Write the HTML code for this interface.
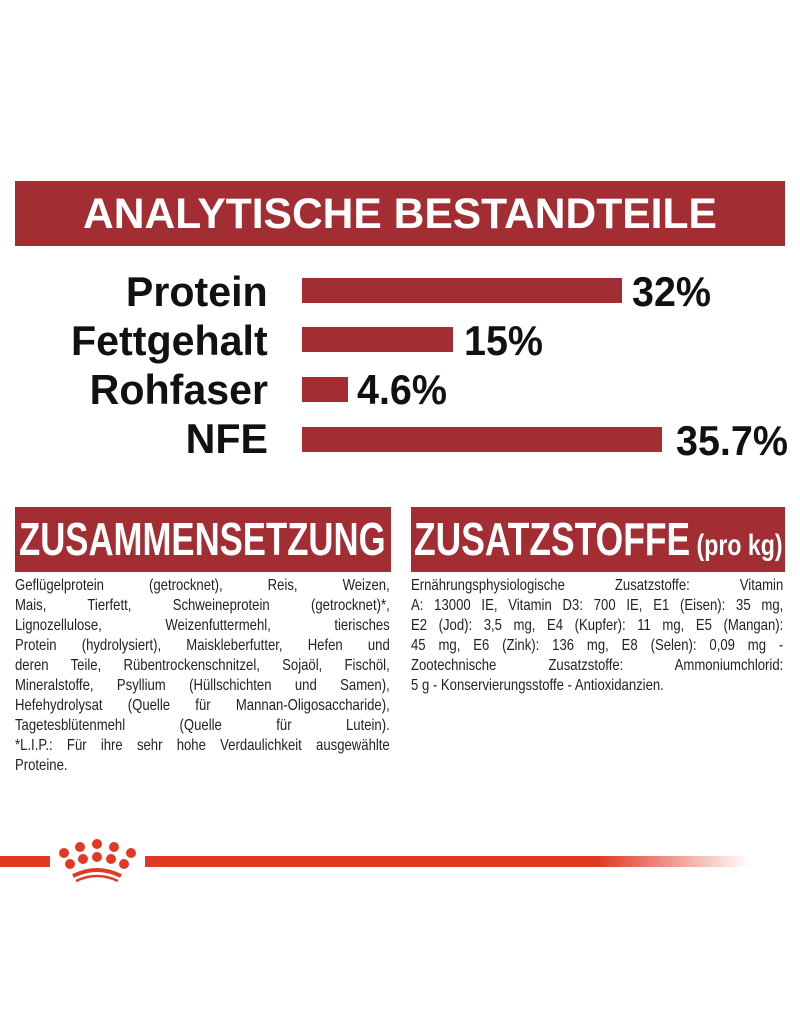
<!DOCTYPE html>
<html><head><meta charset="utf-8"><style>
html,body{margin:0;padding:0;background:#fff;}
body{width:800px;height:1012px;position:relative;overflow:hidden;font-family:"Liberation Sans",sans-serif;}
.abs{position:absolute;}
.banner{background:#a22d32;}
.bar{position:absolute;background:#a22d32;left:302px;height:25px;}
.lab{position:absolute;right:532px;font-weight:bold;font-size:42px;color:#111;transform:scaleX(0.98);transform-origin:right center;white-space:nowrap;line-height:1;}
.pct{position:absolute;font-weight:bold;font-size:42px;color:#111;transform:scaleX(0.94);transform-origin:left center;white-space:nowrap;line-height:1;}
.txt{position:absolute;width:457px;font-size:16px;line-height:20px;color:#222;transform:scaleX(0.82);transform-origin:left top;}
.txt div{text-align:justify;text-align-last:justify;white-space:nowrap;}
.txt div.l{text-align-last:left;}
</style></head><body>
<div class="abs banner" style="left:15px;top:181px;width:770px;height:65px;"></div>
<div class="abs" style="left:83px;top:193px;color:#fff;font-weight:bold;font-size:43px;line-height:1;transform:scaleX(0.99);transform-origin:left center;white-space:nowrap;">ANALYTISCHE BESTANDTEILE</div>

<div class="lab" style="top:271px;">Protein</div>
<div class="bar" style="top:278px;width:320px;"></div>
<div class="pct" style="left:632px;top:271px;">32%</div>

<div class="lab" style="top:320px;">Fettgehalt</div>
<div class="bar" style="top:327px;width:151px;"></div>
<div class="pct" style="left:464px;top:320px;">15%</div>

<div class="lab" style="top:369px;">Rohfaser</div>
<div class="bar" style="top:377px;width:46px;"></div>
<div class="pct" style="left:357px;top:369px;">4.6%</div>

<div class="lab" style="top:418px;">NFE</div>
<div class="bar" style="top:427px;width:360px;"></div>
<div class="pct" style="left:676px;top:420px;">35.7%</div>

<div class="abs banner" style="left:15px;top:507px;width:376px;height:65px;"></div>
<div class="abs" style="left:19px;top:516px;color:#fff;font-weight:bold;font-size:46px;line-height:1;transform:scaleX(0.755);transform-origin:left center;white-space:nowrap;">ZUSAMMENSETZUNG</div>
<div class="abs banner" style="left:411px;top:507px;width:374px;height:65px;"></div>
<div class="abs" style="left:414px;top:516px;color:#fff;font-weight:bold;font-size:46px;line-height:1;transform:scaleX(0.77);transform-origin:left center;white-space:nowrap;">ZUSATZSTOFFE<span style="font-size:30px;"> (pro kg)</span></div>

<div class="txt" style="left:15px;top:576px;">
<div>Geflügelprotein (getrocknet), Reis, Weizen,</div>
<div>Mais, Tierfett, Schweineprotein (getrocknet)*,</div>
<div>Lignozellulose, Weizenfuttermehl, tierisches</div>
<div>Protein (hydrolysiert), Maiskleberfutter, Hefen und</div>
<div>deren Teile, Rübentrockenschnitzel, Sojaöl, Fischöl,</div>
<div>Mineralstoffe, Psyllium (Hüllschichten und Samen),</div>
<div>Hefehydrolysat (Quelle für Mannan-Oligosaccharide),</div>
<div>Tagetesblütenmehl (Quelle für Lutein).</div>
<div>*L.I.P.: Für ihre sehr hohe Verdaulichkeit ausgewählte</div>
<div class="l">Proteine.</div>
</div>
<div class="txt" style="left:411px;top:576px;width:454px;">
<div>Ernährungsphysiologische Zusatzstoffe: Vitamin</div>
<div>A: 13000 IE, Vitamin D3: 700 IE, E1 (Eisen): 35 mg,</div>
<div>E2 (Jod): 3,5 mg, E4 (Kupfer): 11 mg, E5 (Mangan):</div>
<div>45 mg, E6 (Zink): 136 mg, E8 (Selen): 0,09 mg -</div>
<div>Zootechnische Zusatzstoffe: Ammoniumchlorid:</div>
<div class="l">5 g - Konservierungsstoffe - Antioxidanzien.</div>
</div>

<div class="abs" style="left:0;top:856px;width:50px;height:11px;background:#e03a26;"></div>
<div class="abs" style="left:145px;top:856px;width:605px;height:11px;background:linear-gradient(to right,#e03a26 0%,#e03a26 75%,rgba(224,58,38,0) 100%);"></div>
<svg class="abs" style="left:0;top:820px;" width="200" height="80">
<g fill="#e03a26">
<circle cx="64" cy="33" r="5"/><circle cx="80" cy="27" r="5"/><circle cx="97" cy="24" r="5"/><circle cx="114" cy="27" r="5"/><circle cx="131" cy="33" r="5"/>
<circle cx="70" cy="44" r="5"/><circle cx="83" cy="39" r="5"/><circle cx="97" cy="37" r="5"/><circle cx="111" cy="39" r="5"/><circle cx="124" cy="44" r="5"/>
</g>
<path d="M73 56 Q97 44 121 56" stroke="#e03a26" stroke-width="4" fill="none"/>
<path d="M76 61 Q97 51 118 61" stroke="#e03a26" stroke-width="2.5" fill="none"/>
</svg>
</body></html>
